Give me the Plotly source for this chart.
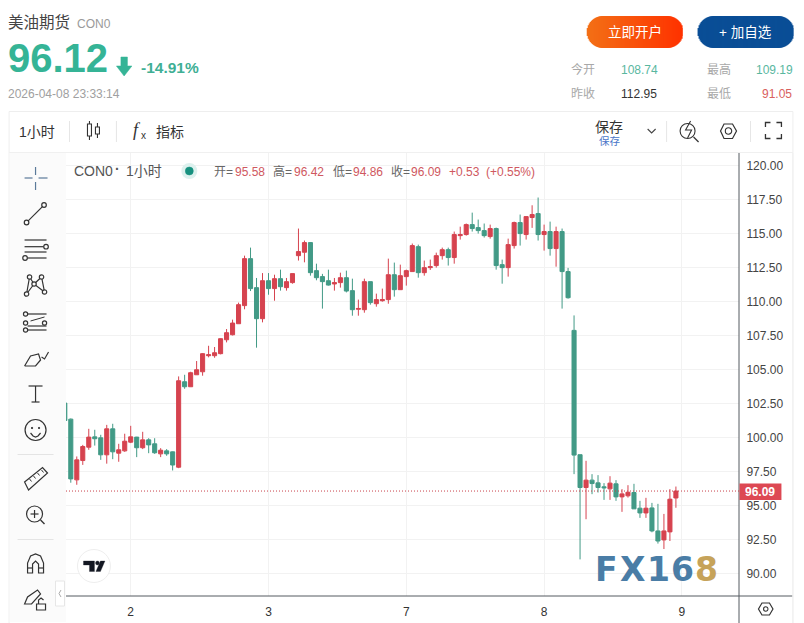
import plotly.graph_objects as go

# ---- data ----
opens = [102.55,101.37,96.91,98.33,99.31,100.07,100.0,98.75,100.66,98.87,99.04,99.68,100.05,99.27,99.85,99.56,98.82,99.04,98.97,97.84,
104.12,103.75,104.63,104.85,106.03,106.03,106.18,107.2,107.57,108.38,109.71,113.16,111.03,108.75,111.54,110.96,111.69,111.03,111.4,113.38,
113.63,114.34,112.28,111.84,111.54,111.3,111.4,111.76,110.81,109.44,109.41,111.47,109.85,110.07,110.15,111.98,110.88,111.84,112.21,114.04,
112.13,112.5,112.65,113.38,113.82,113.24,114.85,114.93,115.66,115.44,115.22,114.78,115.37,112.72,112.5,114.12,115.81,114.93,116.18,116.47,
114.93,115.15,113.9,115.15,112.21,107.89,98.76,96.35,96.89,96.69,96.4,96.25,96.62,95.66,95.74,95.98,94.83,94.48,94.85,93.16,92.5,93.09,95.58]
highs = [102.6,101.42,98.63,99.48,100.66,100.59,100.22,100.95,101.03,99.56,100.3,100.88,100.07,100.44,99.97,99.97,99.24,99.17,98.99,104.51,
104.63,104.85,105.64,106.22,106.76,106.67,107.3,107.99,108.68,109.93,113.38,113.97,111.74,112.1,112.1,111.98,112.35,111.74,112.06,115.37,
114.49,114.36,112.79,112.04,112.35,111.74,112.13,112.28,111.69,110.15,111.69,111.47,110.59,110.96,113.16,112.87,112.72,112.35,114.27,114.19,
113.02,113.09,113.6,113.97,113.97,115.15,115.51,115.74,116.54,116.03,115.74,115.66,115.44,113.09,114.63,115.88,116.4,116.25,117.08,117.65,
115.66,115.88,115.51,115.37,112.48,108.99,98.76,98.31,97.33,97.26,96.67,97.18,96.89,96.23,96.52,96.62,95.37,95.59,95.22,95.15,94.41,96.23,96.42]
lows = [101.27,96.7,96.55,98.01,99.12,99.43,98.38,98.1,98.43,98.24,98.97,99.61,98.58,99.17,98.87,98.82,98.58,98.68,97.6,97.77,
103.6,103.75,104.63,104.56,105.91,105.88,106.13,107.01,107.52,108.38,109.44,110.78,106.62,108.48,110.51,110.07,110.81,110.81,111.32,113.02,
112.89,111.91,111.57,109.49,111.18,110.81,111.03,110.68,108.97,108.97,109.19,109.78,109.63,110.0,109.85,110.37,110.88,111.18,112.21,111.76,
111.91,112.33,112.5,113.09,112.65,112.79,114.56,114.85,115.15,115.0,114.71,114.63,112.35,111.32,111.84,113.9,114.12,114.56,115.42,114.49,
113.75,113.38,112.57,109.49,110.22,97.33,91.07,94.02,95.86,95.98,95.44,95.44,95.37,94.56,95.61,94.78,94.12,94.12,93.06,92.23,91.83,92.42,94.86]
closes = [101.27,96.98,98.38,99.36,100.05,99.93,98.75,100.66,98.97,99.12,99.75,100.07,99.27,99.85,99.48,98.9,99.09,98.82,98.0,104.19,
103.75,104.78,105.0,106.18,106.1,106.25,107.28,107.72,108.43,109.78,113.16,110.96,108.75,111.54,110.96,111.69,111.1,111.47,112.06,113.68,
114.34,112.13,111.76,111.47,111.22,111.4,111.76,110.78,109.41,109.5,111.47,109.93,110.15,110.15,111.98,110.88,111.91,112.28,114.12,112.13,
112.5,112.57,113.38,113.82,113.24,114.93,114.93,115.66,115.37,115.22,114.85,115.37,112.65,112.5,114.19,115.81,115.0,116.25,116.4,114.93,
115.15,113.9,115.15,112.21,110.29,98.73,96.35,96.89,96.64,96.35,96.33,96.67,95.66,95.88,96.0,94.78,94.48,94.83,93.16,92.42,93.16,95.49,96.09]
bars = list(range(len(closes)))
day_bars = [11, 34, 57, 80, 103]
day_labels = ["2", "3", "7", "8", "9"]
price_ticks = [90 + 2.5 * i for i in range(13)]
last_close = closes[-1]

RED = "#D6434F"
GREEN = "#429A86"
W, H = 804, 623
L, R, T, B = 65.5, 739.5, 153, 596

def px(x): return (x - L) / (R - L)
def py(y): return 1 - (y - T) / (B - T)

shapes, notes = [], []
CJK = "Liberation Sans, Arial, Noto Sans CJK SC"

def text(x, y, s, size=12, color="#333", anchor="left", bold=False, family=CJK):
    notes.append(dict(x=px(x), y=py(y), xref="paper", yref="paper", text=f"<b>{s}</b>" if bold else s,
                      showarrow=False, xanchor=anchor, yanchor="middle", borderpad=0,
                      xshift=-1.5 if anchor == "left" else 0,
                      font=dict(size=size, color=color, family=family)))

def path(pts, color="#333", width=1.2, fill=None, close=False):
    d = "M" + " L".join(f"{px(a):.5f},{py(b):.5f}" for a, b in pts) + (" Z" if close else "")
    shapes.append(dict(type="path", xref="paper", yref="paper", path=d, layer="above",
                       line=dict(color=color, width=width), fillcolor=fill or "rgba(0,0,0,0)"))

def rect(x0, y0, x1, y1, fill=None, color=None, width=0, layer="above"):
    shapes.append(dict(type="rect", xref="paper", yref="paper", x0=px(x0), x1=px(x1), y0=py(y0), y1=py(y1),
                       layer=layer, fillcolor=fill or "rgba(0,0,0,0)", line=dict(color=color or "rgba(0,0,0,0)", width=width)))

def circ(cx, cy, r, color="#333", width=1.2, fill=None):
    shapes.append(dict(type="circle", xref="paper", yref="paper", x0=px(cx-r), x1=px(cx+r), y0=py(cy-r), y1=py(cy+r),
                       layer="above", fillcolor=fill or "rgba(0,0,0,0)", line=dict(color=color, width=width)))

def pill(x0, x1, y0, y1, c0, c1):
    # slices overlap so that no white shows through their anti-aliased edges
    r = (y1 - y0) / 2
    n = int(x1 - x0)
    for i in range(n):
        xm = x0 + i + 0.5
        d = max(r - (xm - x0), (xm - x1) + r, 0)
        h = (max(r*r - d*d, 0)) ** 0.5
        t = i / (x1 - x0)
        c = tuple(round(a + (b - a) * t) for a, b in zip(c0, c1))
        rect(x0 + i, y0 + r - h, x0 + i + (2 if i < n - 1 else 1), y0 + r + h, fill=f"rgb{c}")

# ---- page frame ----
rect(8.5, 111.5, 793.5, 640, color="#EEEEEE", width=1, layer="below")
rect(9, 153, 65.5, 622, fill="#FBFBFB", layer="below")
path([(8.5, 152.5), (793.5, 152.5)], "#F0F0F0", 1)
path([(739.5, 153), (739.5, 623)], "#555B60", 1)
path([(65.5, 596), (793, 596)], "#555B60", 1)
path([(793.5, 153), (793.5, 623)], "#F0F0F0", 1)

# ---- header ----
text(8, 23, "美油期货", 15.5, "#444")
text(77, 24, "CON0", 12, "#9A9A9A")
text(8, 58, "96.12", 40, "#35B496", bold=True)
path([(120.5, 57), (127, 57), (127, 66), (131.5, 66), (123.7, 76), (116, 66), (120.5, 66)], "#35B496", 0.5, "#35B496", True)
text(141, 68, "-14.91%", 15.5, "#3FAF95", bold=True)
text(8, 94, "2026-04-08 23:33:14", 12, "#A0A0A0")

pill(587, 683, 16, 48, (243, 112, 22), (255, 50, 0))
pill(698, 794, 16, 48, (10, 78, 150), (10, 78, 150))
text(635, 32, "立即开户", 13.5, "#FFFFFF", "center")
text(746, 32, "+ 加自选", 13.5, "#FFFFFF", "center")

text(572, 70, "今开", 12, "#A8A8A8")
text(622, 70, "108.74", 12, "#59B79F")
text(708, 70, "最高", 12, "#A8A8A8")
text(757, 70, "109.19", 12, "#59B79F")
text(572, 94, "昨收", 12, "#A8A8A8")
text(622, 94, "112.95", 12, "#333333")
text(708, 94, "最低", 12, "#A8A8A8")
text(763, 94, "91.05", 12, "#D9605E")

# ---- top toolbar ----
text(19, 132, "1小时", 14, "#333")
path([(69, 121), (69, 142)], "#E6E6E6", 1)
path([(116, 121), (116, 142)], "#E6E6E6", 1)
rect(87, 124, 91, 136, color="#333", width=1.1)
path([(89, 121), (89, 124)], "#333", 1.1); path([(89, 136), (89, 140)], "#333", 1.1)
rect(95, 127, 99, 134, color="#333", width=1.1)
path([(97, 123), (97, 127)], "#333", 1.1); path([(97, 134), (97, 138)], "#333", 1.1)
text(133, 130, "<i>f</i>", 18, "#333", family="Liberation Serif")
text(141, 136, "x", 10, "#333")
text(156, 132, "指标", 14, "#333")
text(596, 127, "保存", 14, "#333")
text(600, 141, "保存", 10.5, "#4A76C8")
path([(648, 129), (652, 133), (656, 129)], "#444", 1.1)
path([(667, 121), (667, 142)], "#E6E6E6", 1)
circ(688, 131, 7.5, "#333", 1.1)
path([(694, 137), (699, 142)], "#333", 1.2)
path([(691, 121), (686, 130), (692, 130), (688, 138)], "#333", 1.1)
path([(721, 131), (724.5, 124), (733, 124), (737, 131), (733, 138.5), (724.5, 138.5)], "#333", 1.2, None, True)
circ(729, 131, 3.2, "#333", 1.1)
path([(751, 121), (751, 142)], "#E6E6E6", 1)
for a, b, c in [((766, 127), (766, 122.5), (771, 122.5)), ((777, 122.5), (782, 122.5), (782, 127)),
                ((766, 134), (766, 138.5), (771, 138.5)), ((777, 138.5), (782, 138.5), (782, 134))]:
    path([a, b, c], "#333", 1.3)

# ---- left toolbar ----
ink = "#333"
for a, b in [((35, 167), (35, 175)), ((35, 182), (35, 190)), ((24, 178), (32, 178)), ((38, 178), (47, 178))]:
    path([a, b], "#5B7A9A", 1.2)
circ(26, 222.5, 2.3, ink); circ(43.5, 205, 2.3, ink); path([(27.6, 220.9), (41.9, 206.6)], ink)
for y, x0, x1 in [(240, 24, 46), (246.7, 24, 43), (252, 24, 46), (258, 27, 46)]:
    path([(x0, y), (x1, y)], ink)
circ(45.5, 246.7, 2.3, ink); circ(24.5, 258, 2.3, ink)
p5 = [(26, 294), (29, 277), (33.5, 284), (41, 277), (44, 292), (33.5, 284), (26, 294)]
path(p5, ink)
for a, b in [(26, 294), (29, 277), (33.5, 284), (41, 277), (44, 292)]:
    circ(a, b, 2.2, ink, 1.2, "#FBFBFB")
for y, dash in [(314, 0), (326, 0), (330, 0)]:
    path([(27, y), (46, y)], ink)
path([(30, 321), (44, 317)], ink, 1, None)
for a, b in [(25, 314), (25, 323), (25, 330), (44, 323)]:
    circ(a, b, 2.1, ink, 1.2, "#FBFBFB")
path([(24, 366), (30, 356), (38, 354), (40, 360), (35, 366), (24, 366)], ink)
path([(41, 357), (44, 359), (48, 352)], ink)
path([(28, 386), (42, 386)], ink); path([(35, 386), (35, 402)], ink); path([(31, 402), (39, 402)], ink)
circ(35, 430, 10.5, ink)
circ(31.5, 428, 0.7, ink, 1, ink); circ(38.5, 428, 0.7, ink, 1, ink)
path([(30, 433), (32.5, 436), (35, 437), (37.5, 436), (40, 433)], ink)
path([(17, 454.5), (53, 454.5)], "#E4E4E4", 1)
path([(24, 482), (42, 467.5), (47, 473), (28, 490)], ink, 1.2, None, True)
for a, b in [(29, 479), (33, 476), (37, 473), (41, 470)]:
    path([(a, b), (a + 2, b + 2.5)], ink, 1)
circ(34, 514, 8, ink); path([(40, 520), (44, 524)], ink, 1.4)
path([(30, 514), (38, 514)], ink); path([(34, 510), (34, 518)], ink)
path([(17, 539.5), (53, 539.5)], "#E4E4E4", 1)
path([(27, 573), (27, 563), (30, 556), (35, 554), (40, 556), (43, 563), (43, 573), (38, 573), (38, 564), (35, 561), (32, 564), (32, 573)], ink, 1.2, None, True)
path([(27, 568), (32, 568)], ink); path([(38, 568), (43, 568)], ink)
path([(24, 604), (27, 597), (37, 590), (40, 594), (31, 604)], ink, 1.2, None, True)
rect(36, 604, 45, 610, color=ink, width=1.2)
path([(38, 604), (38, 600), (40.5, 598), (43, 600)], ink)
rect(55, 581, 64, 606, fill="#FFFFFF", color="#E6E6E6", width=1)
path([(60.5, 590), (58.5, 593.5), (60.5, 597)], "#AAA", 1)

# ---- legend row ----
text(74, 171, "CON0", 14, "#555")
text(115, 169, "·", 14, "#555", bold=True)
text(126, 171, "1小时", 14, "#555")
circ(189, 171, 8, "rgba(0,0,0,0)", 0, "#DDF1EE")
circ(189, 171, 4, "#17917F", 0.5, "#17917F")
for x, s in [(214, "开="), (273, "高="), (333, "低="), (391, "收=")]:
    text(x, 171.5, s, 12, "#666")
for x, s in [(235, "95.58"), (294, "96.42"), (353, "94.86"), (412, "96.09"), (450, "+0.53"), (487, "(+0.55%)")]:
    text(x, 171.5, s, 12, "#CF5860")

# ---- price line + tag ----
shapes.append(dict(type="line", xref="paper", yref="y", x0=0, x1=1, y0=last_close, y1=last_close, layer="above",
                   line=dict(color="#C8404A", width=1, dash="1px,2px")))
rect(740, 483.5, 782, 500, fill="#DD4853")
text(761, 491.5, "96.09", 12, "#FFFFFF", "center", bold=True)

# ---- bottom items ----
circ(93.5, 566, 16.5, "#EEEEEE", 1, "#FFFFFF")
path([(83, 561), (94, 561), (94, 571.5), (89, 571.5), (89, 565), (83, 565)], "#131722", 0.3, "#131722", True)
circ(97, 563, 2, "#131722", 0.3, "#131722")
path([(100, 561), (104.5, 561), (100, 571.5), (95.5, 571.5)], "#131722", 0.3, "#131722", True)
path([(759, 609), (762.5, 603), (770, 603), (773.5, 609), (770, 615), (762.5, 615)], "#333", 1.2, None, True)
circ(766.3, 609, 2.2, "#333", 1.1)
for x, s, c in [(596, "F", "#4A7DA6"), (621, "X", "#4A7DA6"), (648, "1", "#4A7DA6"), (672, "6", "#4A7DA6"), (696, "8", "#C6A35A")]:
    text(x, 569, s, 33, c, bold=True, family="DejaVu Sans")

# ---- chart ----
fig = go.Figure(go.Candlestick(
    x=bars, open=opens, high=highs, low=lows, close=closes,
    increasing=dict(line=dict(color=RED, width=1), fillcolor=RED),
    decreasing=dict(line=dict(color=GREEN, width=1), fillcolor=GREEN),
    whiskerwidth=0, showlegend=False, hoverinfo="skip"))

fig.update_layout(
    width=W, height=H, paper_bgcolor="#FFFFFF", plot_bgcolor="#FFFFFF",
    margin=dict(l=L, r=W - R, t=T, b=H - B, pad=0, autoexpand=False), boxgap=0.2, boxgroupgap=0.15,
    font=dict(family=CJK, color="#444", size=12), showlegend=False,
    xaxis=dict(range=[0.2, 112.53], tickvals=day_bars, ticktext=day_labels, rangeslider=dict(visible=False),
               showgrid=True, gridcolor="#F2F2F2", zeroline=False, showline=False, ticks="outside",
               ticklen=5, tickcolor="rgba(0,0,0,0)", tickfont=dict(size=12, color="#333")),
    yaxis=dict(range=[88.38, 120.92], side="right", tickvals=price_ticks, tickformat=".2f", showgrid=True,
               gridcolor="#F2F2F2", zeroline=False, showline=False, ticks="outside", ticklen=4,
               tickcolor="rgba(0,0,0,0)", tickfont=dict(size=12, color="#444")),
    shapes=shapes, annotations=notes)

fig.write_html("out.html", config=dict(displayModeBar=False),
               post_script="document.body.style.margin='0';document.body.style.overflow='hidden';")
